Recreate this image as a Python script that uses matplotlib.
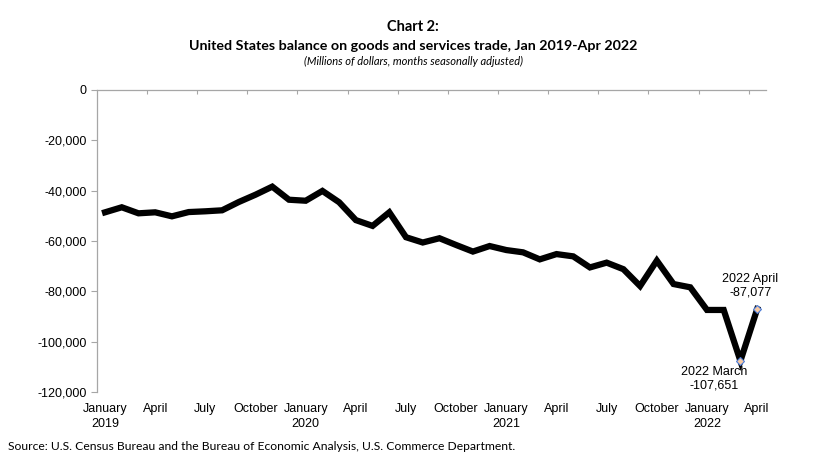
import matplotlib.pyplot as plt
from matplotlib.ticker import FuncFormatter

# Monthly balance, Jan 2019 - Apr 2022 (millions of dollars)
months = ['January', 'February', 'March', 'April', 'May', 'June', 'July',
          'August', 'September', 'October', 'November', 'December']
years = [2019, 2020, 2021, 2022]
balance = [
    -48600, -46600, -49000, -48600, -50200, -48500, -48200, -47800, -44500, -41600, -38400, -43600,
    -44000, -40100, -44600, -51700, -54000, -48600, -58500, -60600, -58900, -61600, -64200, -62000,
    -63600, -64500, -67300, -65200, -66100, -70500, -68600, -71200, -77900, -67800, -77100, -78400,
    -87400, -87400, -107651, -87077,
]
yticks = [0, -20000, -40000, -60000, -80000, -100000, -120000]

# every third month gets a label, Januaries also get the year
labels = []
for i in range(len(balance)):
    m = months[i % 12]
    if i % 3 != 0:
        labels.append('')
    elif i % 12 == 0:
        labels.append(m + '\n' + str(years[i // 12]))
    else:
        labels.append(m)

plt.rcParams['font.family'] = ['Liberation Sans', 'DejaVu Sans']

fig = plt.figure(figsize=(8.26, 4.75), dpi=100)
ax = fig.add_axes([96.7 / 826, 1 - 392 / 475, (765.5 - 96.7) / 826, (392 - 90) / 475])

x = list(range(len(balance)))
ax.plot(x, balance, color='black', lw=4.5, solid_joinstyle='miter', zorder=3)
ax.plot(x[-2:], balance[-2:], ls='none', marker='D', ms=4.5,
        markerfacecolor='#f5c9a3', markeredgecolor='#4a7bd8', markeredgewidth=0.8, zorder=4)

ax.set_xlim(-0.5, len(balance) - 0.5)
ax.set_ylim(-120000, 0)

# y axis
ax.set_yticks(yticks)
ax.yaxis.set_major_formatter(FuncFormatter(lambda v, p: f'{int(v):,}'))
ax.tick_params(axis='y', length=4, width=0.8, color='#a6a6a6', labelsize=9, pad=3)

# category axis sits at zero (top), labels drawn below the plot
ax.set_xticks([i - 0.5 for i in range(3, len(balance), 3)])
ax.set_xticklabels([])
ax.tick_params(axis='x', direction='in', length=3, width=0.8, color='#a6a6a6',
               top=True, bottom=False)
for i, lab in enumerate(labels):
    if lab:
        ax.annotate(lab, xy=(i, -120000), xytext=(0, -8), textcoords='offset points',
                    ha='center', va='top', fontsize=9, linespacing=1.3,
                    annotation_clip=False)

for s in ['right', 'bottom']:
    ax.spines[s].set_visible(False)
for s in ['left', 'top']:
    ax.spines[s].set_color('#a6a6a6')
    ax.spines[s].set_linewidth(0.9)

# callouts for the last two months
ax.annotate(f'2022 April\n{balance[-1]:,}', xy=(x[-1], balance[-1]), xytext=(-5, 8),
            textcoords='offset points', ha='center', va='bottom', fontsize=9,
            linespacing=1.15, annotation_clip=False)
ax.annotate(f'2022 March\n{balance[-2]:,}', xy=(x[-2], balance[-2]), xytext=(-19, -4),
            textcoords='offset points', ha='center', va='top', fontsize=9,
            linespacing=1.15, annotation_clip=False)

# titles and source
tfont = ['Lato', 'DejaVu Sans']
fig.text(0.5, 1 - 27 / 475, 'Chart 2:', ha='center', va='center', fontsize=10.5,
         fontweight='bold', family=tfont)
fig.text(0.5, 1 - 46 / 475, 'United States balance on goods and services trade, Jan 2019-Apr 2022',
         ha='center', va='center', fontsize=10.3, fontweight='bold', family=tfont)
fig.text(0.5, 1 - 61 / 475, '(Millions of dollars, months seasonally adjusted)',
         ha='center', va='center', fontsize=8, style='italic', family=tfont)
fig.text(8 / 826, 1 - 446 / 475,
         'Source: U.S. Census Bureau and the Bureau of Economic Analysis, U.S. Commerce Department.',
         ha='left', va='center', fontsize=8.7, family=tfont)

fig.savefig('out.png', dpi=100)
